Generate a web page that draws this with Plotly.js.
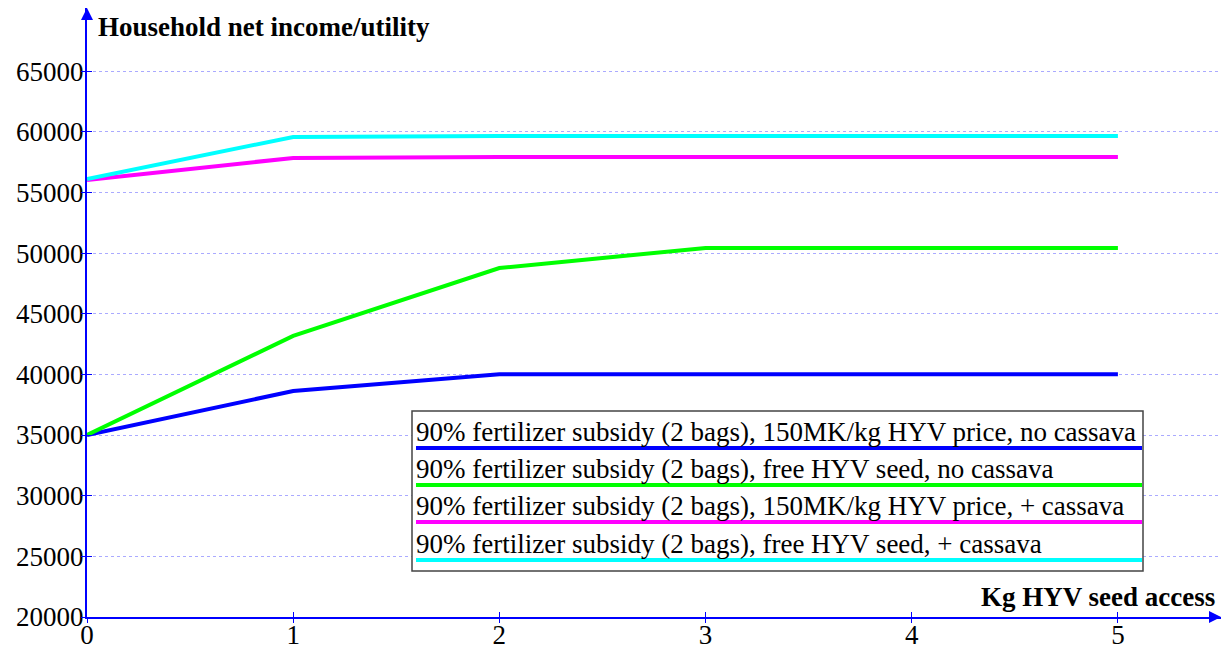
<!DOCTYPE html>
<html><head><meta charset="utf-8">
<script src="https://cdn.plot.ly/plotly-3.0.1.min.js"></script>
<style>html,body{margin:0;padding:0;background:#fff}#chart{width:1224px;height:648px}</style>
</head><body><div id="chart"></div>
<script>
const seedKg = [0, 1, 2, 3, 4, 5];
const seriesNames = [
  "90% fertilizer subsidy (2 bags), 150MK/kg HYV price, no cassava",
  "90% fertilizer subsidy (2 bags), free HYV seed, no cassava",
  "90% fertilizer subsidy (2 bags), 150MK/kg HYV price, + cassava",
  "90% fertilizer subsidy (2 bags), free HYV seed, + cassava"
];
const priceNoCassava = [35000, 38630, 40000, 40000, 40000, 40000];
const freeNoCassava  = [35000, 43170, 48770, 50420, 50420, 50420];
const pricePlusCassava = [56030, 57840, 57920, 57920, 57920, 57920];
const freePlusCassava  = [56100, 59570, 59650, 59650, 59650, 59650];
const seriesColors = ["#0000ff", "#00ff00", "#ff00ff", "#00ffff"];
const yTicks = [20000, 25000, 30000, 35000, 40000, 45000, 50000, 55000, 60000, 65000];
const xTicks = [0, 1, 2, 3, 4, 5];
const yTitle = "Household net income/utility";
const xTitle = "Kg HYV seed access";

const W = 1224, H = 648, L = 87, R = 3, T = 8, B = 31;
const pw = W - L - R, ph = H - T - B;
const px = v => (v - L) / pw;
const py = v => (H - B - v) / ph;
const FONT = "Liberation Serif";
const FS = 27;

const allY = [priceNoCassava, freeNoCassava, pricePlusCassava, freePlusCassava];
const traces = allY.map((ys, i) => ({
  x: seedKg, y: ys, type: "scatter", mode: "lines", name: seriesNames[i],
  line: {color: seriesColors[i], width: 4}, showlegend: false, hoverinfo: "skip"
}));

const shapes = [];
const annotations = [];
// legend box
shapes.push({type: "rect", xref: "paper", yref: "paper", x0: px(412), x1: px(1143), y0: py(571), y1: py(411),
  line: {color: "#444", width: 1.5}, fillcolor: "rgba(255,255,255,1)", layer: "above"});
const textY = [432, 469, 506, 544];
const lineY = [448, 485, 522, 560];
seriesNames.forEach((n, i) => {
  shapes.push({type: "line", xref: "paper", yref: "paper", x0: px(416), x1: px(1142), y0: py(lineY[i]), y1: py(lineY[i]),
    line: {color: seriesColors[i], width: 4}, layer: "above"});
  annotations.push({xref: "paper", yref: "paper", x: px(414), y: py(textY[i]), xanchor: "left", yanchor: "middle",
    text: n, showarrow: false, font: {family: FONT, size: FS, color: "#000"}});
});
// titles
annotations.push({xref: "paper", yref: "paper", x: px(96), y: py(27), xanchor: "left", yanchor: "middle",
  text: "<b>" + yTitle + "</b>", showarrow: false, font: {family: FONT, size: FS, color: "#000"}});
annotations.push({xref: "paper", yref: "paper", x: px(1217), y: py(597), xanchor: "right", yanchor: "middle",
  text: "<b>" + xTitle + "</b>", showarrow: false, font: {family: FONT, size: FS, color: "#000"}});
// axis arrowheads
annotations.push({xref: "paper", yref: "paper", x: 0, y: 1, ax: 0, ay: 12, axref: "pixel", ayref: "pixel",
  showarrow: true, arrowhead: 2, arrowsize: 1.2, arrowwidth: 2, arrowcolor: "#0000ff", text: ""});
annotations.push({xref: "paper", yref: "paper", x: 1, y: 0, ax: -12, ay: 0, axref: "pixel", ayref: "pixel",
  showarrow: true, arrowhead: 2, arrowsize: 1.2, arrowwidth: 2, arrowcolor: "#0000ff", text: ""});

const tickOnly = (overl, anch, side, dir, vals) => ({overlaying: overl, matches: overl, anchor: anch, side: side,
  showline: false, showgrid: false, zeroline: false, ticks: dir, ticklen: 5, tickwidth: 1,
  tickcolor: "#0000ff", tickvals: vals, showticklabels: false});

const layout = {
  width: W, height: H, margin: {l: L, r: R, t: T, b: B},
  paper_bgcolor: "#fff", plot_bgcolor: "#fff",
  font: {family: FONT, size: FS, color: "#000"},
  xaxis: {range: [0, 5.5], tickvals: xTicks, ticktext: xTicks.map(String), showgrid: false,
    showline: true, linecolor: "#0000ff", linewidth: 2, zeroline: false,
    ticks: "", ticklabelstandoff: -7,
    tickfont: {family: FONT, size: FS, color: "#000"}},
  yaxis: {range: [20000, 70200], tickvals: yTicks, ticktext: yTicks.map(String), showgrid: true,
    gridcolor: "#aaaaff", griddash: "dot", gridwidth: 1,
    showline: true, linecolor: "#0000ff", linewidth: 2, zeroline: false,
    ticks: "", ticklabelstandoff: -4,
    tickfont: {family: FONT, size: FS, color: "#000"}},
  xaxis2: tickOnly("x", "y", "bottom", "inside", xTicks),
  xaxis3: tickOnly("x", "y", "bottom", "outside", xTicks),
  yaxis2: tickOnly("y", "x", "left", "inside", yTicks),
  yaxis3: tickOnly("y", "x", "left", "outside", yTicks),
  shapes: shapes, annotations: annotations, showlegend: false
};
traces.push({x: [], y: [], xaxis: "x2", yaxis: "y2", type: "scatter", mode: "lines", showlegend: false, hoverinfo: "skip"});
traces.push({x: [], y: [], xaxis: "x3", yaxis: "y3", type: "scatter", mode: "lines", showlegend: false, hoverinfo: "skip"});
Plotly.newPlot("chart", traces, layout, {staticPlot: true});
</script></body></html>
